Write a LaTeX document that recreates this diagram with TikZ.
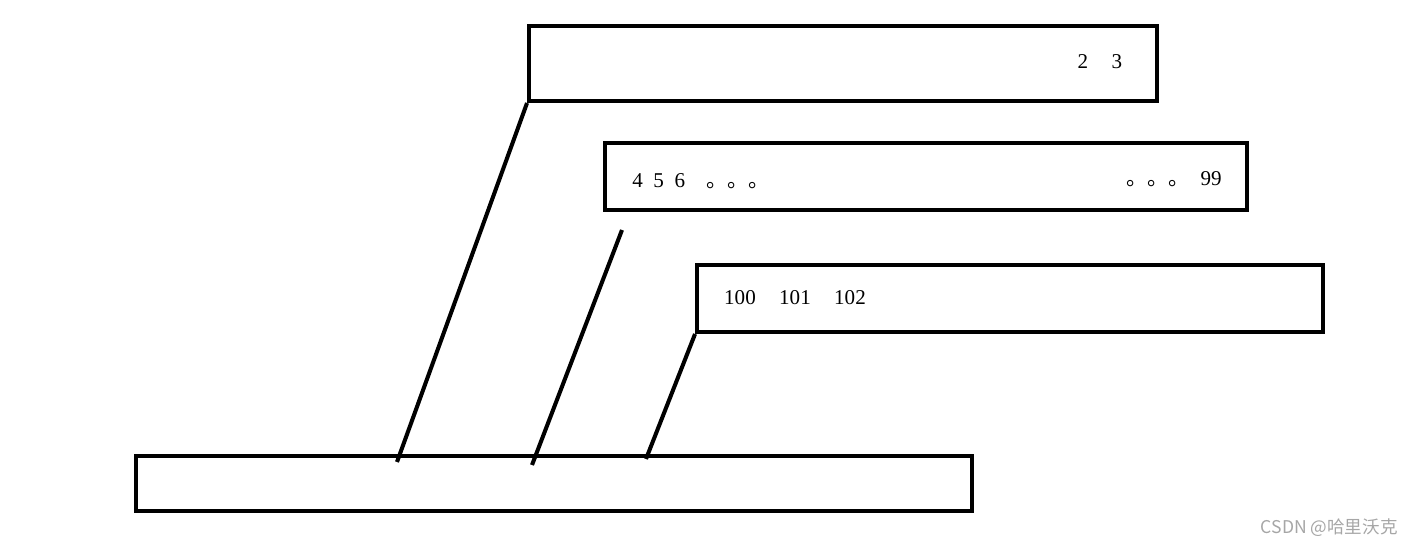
\documentclass[tikz,border=0pt]{standalone}
\usepackage{fontspec}
\setmainfont{Liberation Serif}
\newfontfamily\cjk{Noto Sans CJK SC}
\usepackage{tikz}

\begin{document}
\begin{tikzpicture}[x=0.02cm, y=-0.02cm,
    block/.style={rectangle, draw, line width=2.3pt, inner sep=0pt},
    num/.style={font=\large, inner sep=0pt}]
    % Fix the canvas
    \useasboundingbox (0,0) rectangle (1414,546);

    % Draw the four blocks
    \node[block, minimum width=12.56cm, minimum height=1.5cm] (Top) at (843,63.5) {};
    \node[block, minimum width=12.84cm, minimum height=1.34cm] (Mid) at (926,176.5) {};
    \node[block, minimum width=12.52cm, minimum height=1.34cm] (Low) at (1010,298.5) {};
    \node[block, minimum width=16.72cm, minimum height=1.1cm] (Base) at (554,483.5) {};

    % Define coordinates for the line ends
    \coordinate (E1) at (397,462);
    \coordinate (S2) at (622,230);
    \coordinate (E2) at (532,465);
    \coordinate (E3) at (646,459);
    % Connect the blocks to the base
    \draw[line width=2.3pt] (Top.south west) -- (E1);
    \draw[line width=2.3pt] (S2) -- (E2);
    \draw[line width=2.3pt] (Low.south west) -- (E3);

    % Numbers in the blocks
    \node[num] (n2) at (1083,62) {2};
    \node[num] (n3) at (1117,62) {3};
    \node[num, anchor=west] (n4) at (632,181) {4\enspace5\enspace6\quad{\cjk 。。。}};
    \node[num, anchor=east] (n99) at (1222,179) {{\cjk 。。。}\enspace 99};
    \node[num] (n100) at (740,298) {100};
    \node[num] (n101) at (795,298) {101};
    \node[num] (n102) at (850,298) {102};

    % Watermark
    \node[anchor=east, text=black!35, inner sep=0pt] (mark) at (1398,528) {\cjk CSDN @哈里沃克};
\end{tikzpicture}
\end{document}
